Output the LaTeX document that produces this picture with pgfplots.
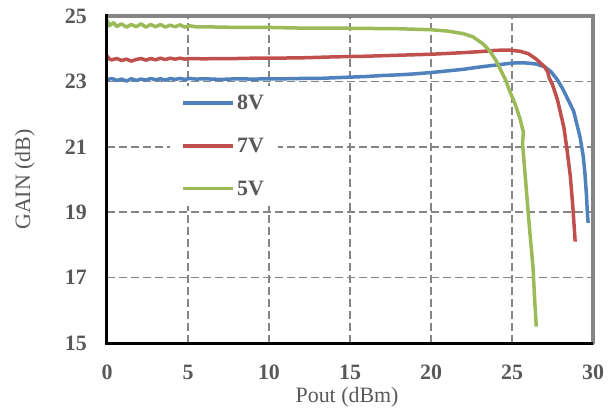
\documentclass[border=0pt]{standalone}
\usepackage{fontspec}
\setmainfont{Liberation Serif}
\usepackage{pgfplots}
\pgfplotsset{compat=1.18}
\definecolor{cblue}{HTML}{4F81BD}
\definecolor{cred}{HTML}{C0504D}
\definecolor{cgreen}{HTML}{9BBB59}
\definecolor{txt}{HTML}{595959}
\definecolor{gridc}{HTML}{858585}
\begin{document}
\begin{tikzpicture}
\begin{axis}[
  scale only axis, width=486bp, height=327bp,
  xmin=0, xmax=30, ymin=15, ymax=25,
  xtick={0,5,...,30}, ytick={15,17,...,25},
  major tick length=0pt,
  grid=major,
  major grid style={gridc, line width=1.5bp, dash pattern=on 8bp off 4bp},
  axis line style={draw=none},
  tick label style={font=\fontsize{22}{26}\selectfont\bfseries, text=txt, inner sep=0pt},
  /pgf/number format/assume math mode=true,
  xticklabel style={anchor=center, yshift=-29bp},
  yticklabel style={anchor=east, xshift=-20bp},
  label style={font=\fontsize{22}{26}\selectfont, text=txt},
  xlabel={Pout (dBm)}, ylabel={GAIN (dB)},
  xlabel style={at={(axis description cs:0.494,-0.165)}, anchor=center},
  ylabel style={at={(axis description cs:-0.169,0.5)}, anchor=center},
  legend cell align=left,
  legend style={at={(axis cs:3.85,22.87)}, anchor=north west, draw=none, fill=white,
    inner xsep=12bp, inner ysep=7bp,
    font=\fontsize{22}{26}\selectfont\bfseries, text=txt, row sep=23bp},
  legend image code/.code={\draw[#1, line width=3.5bp] (0bp,0bp) -- (50bp,0bp);},
  every axis plot/.append style={line width=3.5bp, line join=round},
  clip=false,
]
\addplot[cblue] coordinates {
(0,23.05) (0.3,23.09) (0.6,23.03) (0.9,23.07) (1.2,23.01) (1.5,23.08) (1.8,23.03) (2.1,23.07)
(2.4,23.04) (2.7,23.09) (3.0,23.05) (3.3,23.08) (3.6,23.04) (3.9,23.09) (4.2,23.06) (4.5,23.09)
(4.8,23.06) (5.1,23.09) (5.5,23.07) (6,23.08) (7,23.06) (8,23.08) (9,23.07) (10,23.08)
(11,23.08) (12,23.09) (13,23.09) (14,23.11) (15,23.13) (16,23.15) (17,23.18) (18,23.2)
(19,23.23) (20,23.27) (21,23.32) (22,23.37) (23,23.44) (24,23.5) (25,23.56) (25.5,23.57)
(26,23.56) (26.5,23.53) (27,23.45) (27.4,23.3) (27.8,23.05) (28.1,22.8) (28.5,22.4)
(28.8,22.1) (29.0,21.7) (29.2,21.3) (29.4,20.7) (29.5,20.2) (29.6,19.5) (29.65,19.0) (29.7,18.67)
};
\addlegendentry{8V}
\addplot[cred] coordinates {
(0,23.78) (0.15,23.68) (0.3,23.66) (0.6,23.7) (0.9,23.64) (1.2,23.68) (1.5,23.62) (1.8,23.67)
(2.1,23.7) (2.4,23.65) (2.7,23.7) (3.0,23.66) (3.3,23.71) (3.6,23.67) (3.9,23.71) (4.2,23.68)
(4.5,23.71) (4.8,23.68) (5.1,23.7) (6,23.69) (7,23.7) (8,23.7) (9,23.71) (10,23.71)
(12,23.72) (14,23.75) (16,23.77) (18,23.8) (20,23.83) (22,23.88) (23,23.91) (24,23.95)
(24.8,23.96) (25.5,23.92) (26,23.85) (26.5,23.68) (27,23.45) (27.2,23.3) (27.3,23.1)
(27.5,22.9) (27.8,22.45) (28.2,21.6) (28.4,20.9) (28.6,20.1) (28.75,19.2) (28.9,18.1)
};
\addlegendentry{7V}
\addplot[cgreen] coordinates {
(0,24.88) (0.15,24.7) (0.4,24.8) (0.6,24.68) (0.9,24.76) (1.2,24.66) (1.5,24.74) (1.8,24.67)
(2.1,24.76) (2.4,24.66) (2.7,24.74) (3.0,24.67) (3.3,24.74) (3.6,24.66) (3.9,24.72) (4.2,24.67)
(4.5,24.73) (4.8,24.66) (5.1,24.7) (5.5,24.67) (6,24.67) (8,24.65) (10,24.65) (12,24.63)
(14,24.63) (16,24.62) (18,24.61) (20,24.58) (21,24.54) (22,24.46) (22.6,24.36) (23.2,24.15)
(23.6,23.95) (24.0,23.65) (24.3,23.35) (24.6,23.05) (24.9,22.65) (25.2,22.3) (25.5,21.85)
(25.7,21.45) (25.65,21.1) (25.75,20.5) (25.9,19.6) (26.1,18.4) (26.3,17.3) (26.4,16.3) (26.5,15.5)
};
\addlegendentry{5V}
\draw[gridc, line width=4bp, line cap=round] (rel axis cs:0,1) -- (rel axis cs:1,1) -- (rel axis cs:1,0);
\draw[black, line width=3bp] (rel axis cs:0,1.005) -- (rel axis cs:0,0) -- (rel axis cs:1,0);
\end{axis}
\pgfresetboundingbox
\path (-107bp,-73bp) rectangle (509bp,343bp);
\end{tikzpicture}
\end{document}
